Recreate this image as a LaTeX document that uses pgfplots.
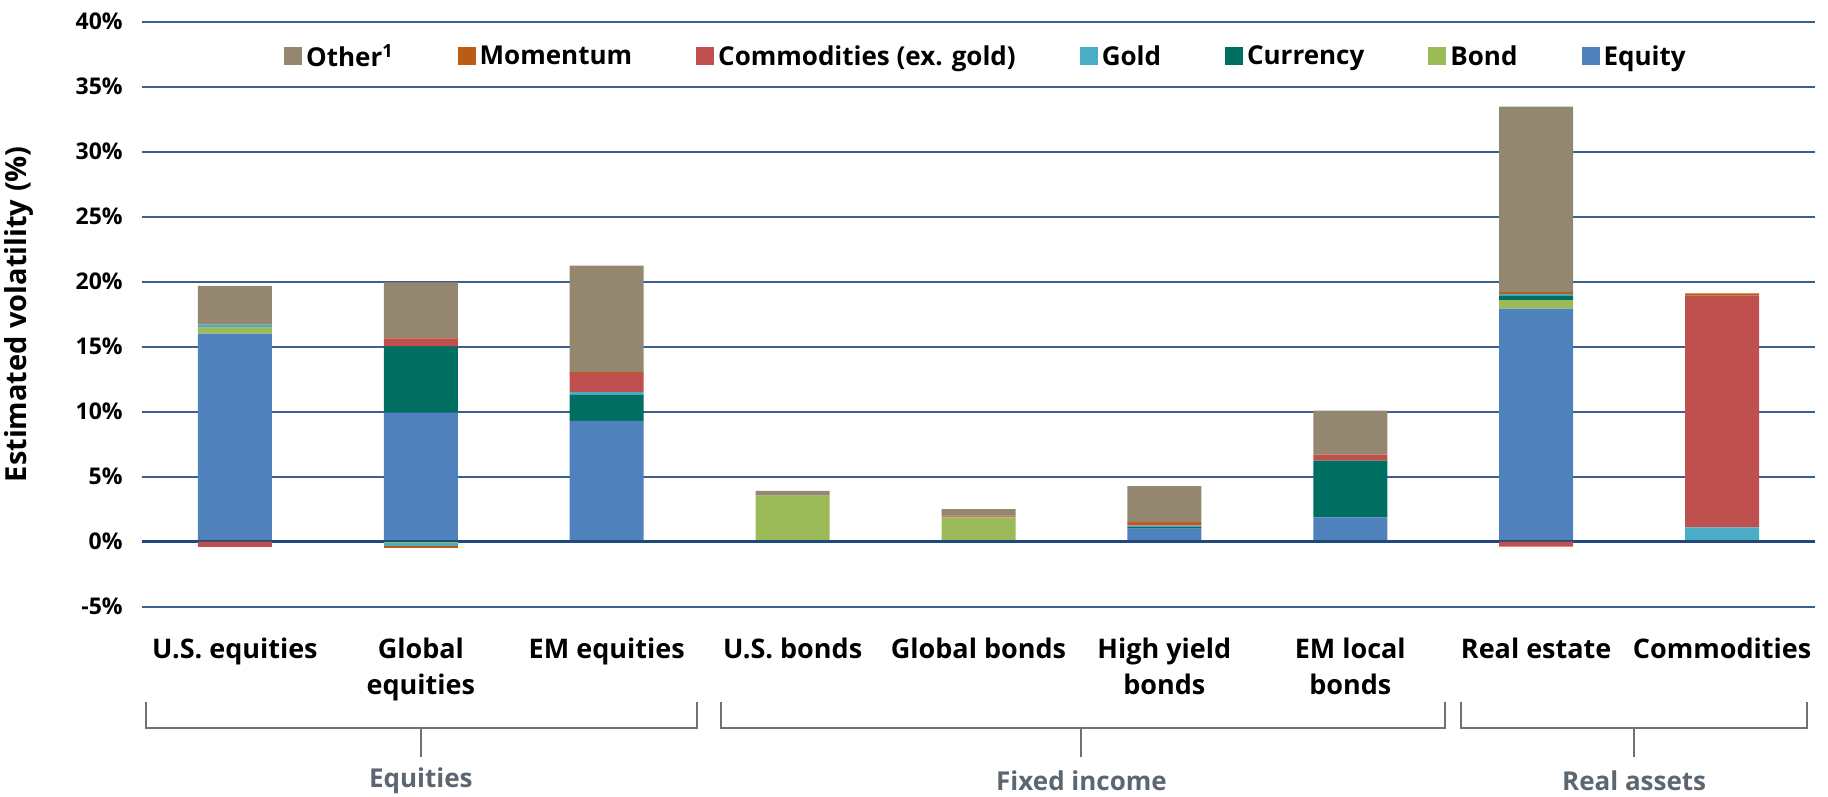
\documentclass[border=0pt]{standalone}
\usepackage{pgfplots}
\pgfplotsset{compat=1.18}
\usepackage{pgfplotstable}
\usepackage{fontspec}
\setmainfont{Open Sans}

\definecolor{cEquity}{RGB}{79,129,189}
\definecolor{cBond}{RGB}{155,187,89}
\definecolor{cCurrency}{RGB}{0,110,97}
\definecolor{cGold}{RGB}{75,172,198}
\definecolor{cComm}{RGB}{192,80,77}
\definecolor{cMom}{RGB}{186,92,22}
\definecolor{cOther}{RGB}{148,135,112}
\definecolor{gridblue}{RGB}{60,95,140}
\definecolor{zeroblue}{RGB}{31,73,125}
\definecolor{brk}{RGB}{112,112,112}
\definecolor{grplab}{RGB}{92,102,112}

\pgfplotstableread{
x equity bond currency gold comm mom other
0 16.00 0.49 0.02 0.18 0.00 0.03 2.95
1 9.92 0.00 5.10 0.00 0.62 0.03 4.28
2 9.30 0.00 2.00 0.20 1.46 0.08 8.19
3 0.00 3.54 0.00 0.00 0.00 0.00 0.36
4 0.00 1.87 0.00 0.00 0.08 0.05 0.51
5 1.00 0.00 0.15 0.08 0.13 0.15 2.77
6 1.87 0.00 4.36 0.00 0.46 0.03 3.36
7 17.92 0.67 0.31 0.15 0.00 0.15 14.26
8 0.00 0.00 0.00 1.10 17.82 0.18 0.00
}\posdata

\pgfplotstableread{
x equity bond currency gold comm mom other
0 0 0.00 0 0.00 -0.40 0.00 0
1 0 -0.12 0 -0.18 -0.05 -0.10 0
2 0 0.00 0 0.00 0.00 0.00 0
3 0 0.00 0 0.00 0.00 0.00 0
4 0 0.00 0 0.00 0.00 0.00 0
5 0 0.00 0 0.00 0.00 0.00 0
6 0 0.00 0 0.00 0.00 0.00 0
7 0 0.00 0 0.00 -0.38 0.00 0
8 0 0.00 0 0.00 0.00 0.00 0
}\negdata

\pgfplotsset{
  myaxis/.style={
    width=836.5pt, height=292.5pt, scale only axis,
    xmin=-0.5, xmax=8.5, ymin=-5, ymax=40,
    axis line style={draw=none}, tick style={draw=none},
    ybar stacked, bar width=37pt,
  },
  barst/.style={fill=#1, draw=none},
}

\begin{document}
\begin{tikzpicture}
\begin{axis}[
  myaxis, clip=false,
  ymajorgrids, major grid style={gridblue, line width=0.9pt},
  ytick={-5,0,5,10,15,20,25,30,35,40},
  yticklabels={-5\%,0\%,5\%,10\%,15\%,20\%,25\%,30\%,35\%,40\%},
  yticklabel style={font=\fontsize{11.5}{13}\selectfont\bfseries, anchor=east, inner sep=0pt, xshift=-9.5pt},
  xtick={0,...,8},
  xticklabels={U.S. equities,{Global\\equities},EM equities,U.S. bonds,Global bonds,{High yield\\bonds},{EM local\\bonds},Real estate,Commodities},
  xticklabel style={font=\fontsize{13.5}{18}\selectfont\bfseries, align=center, anchor=north, inner sep=0pt, yshift=-15.5pt},
  ylabel={Estimated volatility (\%)},
  ylabel style={at={(axis description cs:-0.0735,0.5)}, anchor=center, font=\fontsize{14.5}{16}\selectfont\bfseries},
  reverse legend,
  legend columns=-1,
  legend style={at={(0.505,0.94)}, anchor=center, draw=none, fill=none,
    font=\fontsize{13}{15}\selectfont\bfseries,
    /tikz/every even column/.append style={column sep=30pt}},
  legend image code/.code={\fill[#1] (0pt,-4pt) rectangle (9pt,5pt);},
]
\addplot[barst=cEquity] table[x=x,y=equity]{\posdata};
\addplot[barst=cBond] table[x=x,y=bond]{\posdata};
\addplot[barst=cCurrency] table[x=x,y=currency]{\posdata};
\addplot[barst=cGold] table[x=x,y=gold]{\posdata};
\addplot[barst=cComm] table[x=x,y=comm]{\posdata};
\addplot[barst=cMom] table[x=x,y=mom]{\posdata};
\addplot[barst=cOther] table[x=x,y=other]{\posdata};
\legend{Equity,Bond,Currency,Gold,Commodities (ex. gold),Momentum,Other\textsuperscript{1}}

% group brackets
\draw[brk, line width=1pt] (axis cs:-0.478,-12.33) -- (axis cs:-0.478,-14.35) -- (axis cs:2.484,-14.35) -- (axis cs:2.484,-12.33);
\draw[brk, line width=1pt] (axis cs:1,-14.35) -- (axis cs:1,-16.56);
\draw[brk, line width=1pt] (axis cs:2.613,-12.33) -- (axis cs:2.613,-14.35) -- (axis cs:6.511,-14.35) -- (axis cs:6.511,-12.33);
\draw[brk, line width=1pt] (axis cs:4.554,-14.35) -- (axis cs:4.554,-16.56);
\draw[brk, line width=1pt] (axis cs:6.597,-12.33) -- (axis cs:6.597,-14.35) -- (axis cs:8.457,-14.35) -- (axis cs:8.457,-12.33);
\draw[brk, line width=1pt] (axis cs:7.527,-14.35) -- (axis cs:7.527,-16.56);
\node[grplab, font=\fontsize{13}{14}\selectfont\bfseries] at (axis cs:1,-18.4) {Equities};
\node[grplab, font=\fontsize{13}{14}\selectfont\bfseries] at (axis cs:4.554,-18.4) {Fixed income};
\node[grplab, font=\fontsize{13}{14}\selectfont\bfseries] at (axis cs:7.527,-18.4) {Real assets};
\end{axis}

\begin{axis}[myaxis, xtick=\empty, ytick=\empty]
\addplot[barst=cEquity] table[x=x,y=equity]{\negdata};
\addplot[barst=cBond] table[x=x,y=bond]{\negdata};
\addplot[barst=cCurrency] table[x=x,y=currency]{\negdata};
\addplot[barst=cGold] table[x=x,y=gold]{\negdata};
\addplot[barst=cComm] table[x=x,y=comm]{\negdata};
\addplot[barst=cMom] table[x=x,y=mom]{\negdata};
\addplot[barst=cOther] table[x=x,y=other]{\negdata};
\draw[zeroblue, line width=1.8pt] (rel axis cs:0,0.11111) -- (rel axis cs:1,0.11111);
\end{axis}

\pgfresetboundingbox
\path[use as bounding box] (-71pt,-95.15pt) rectangle (843pt,303.35pt);
\end{tikzpicture}
\end{document}
